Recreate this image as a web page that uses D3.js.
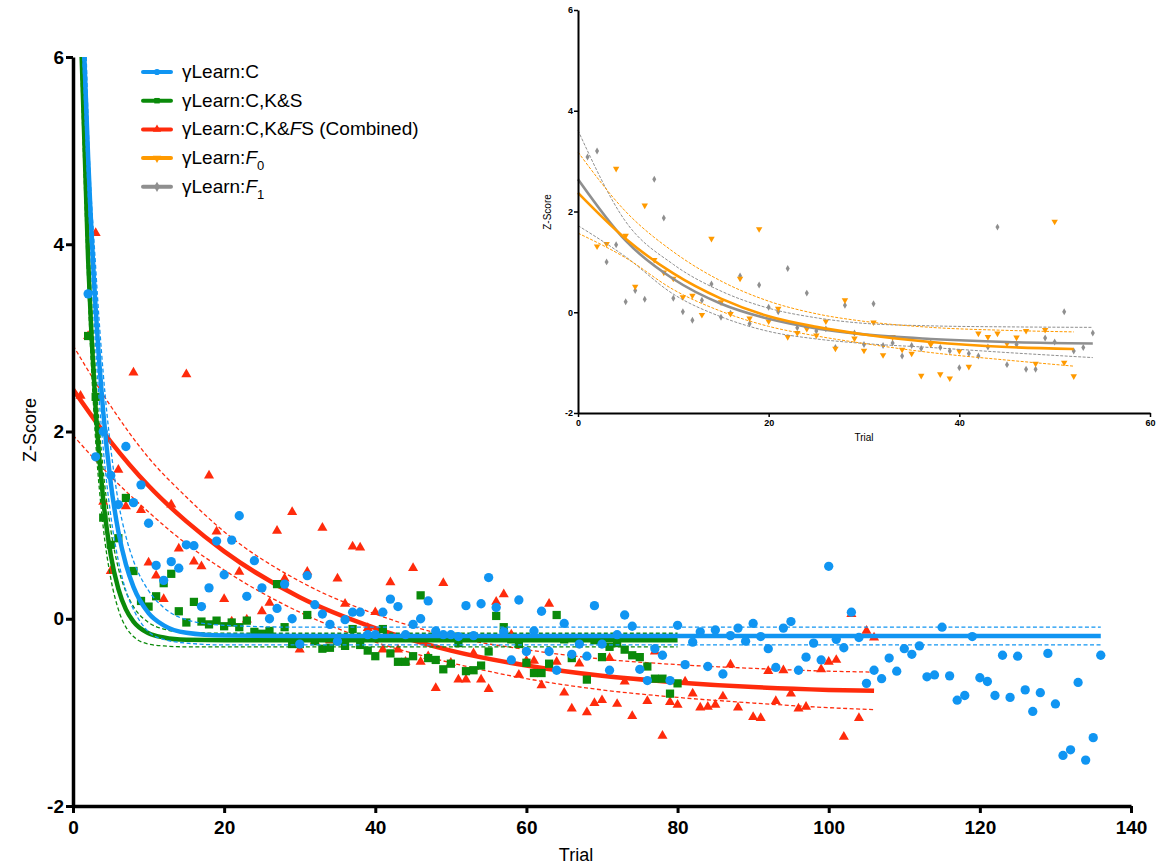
<!DOCTYPE html>
<html>
<head>
<meta charset="utf-8">
<script src="https://cdn.jsdelivr.net/npm/d3@7"></script>
<style>
  body { margin: 0; background: #fff; }
  text { font-family: "Liberation Sans", Arial, sans-serif; }
  .tick text { font-family: "Liberation Sans Narrow", "Liberation Sans", Arial, sans-serif; font-weight: bold; }
</style>
</head>
<body>
<script>
// ---- data (trial, z-score) ----
var blueData = [[2,3.47],[3,1.73],[4,2.0],[5,1.53],[6,1.22],[7,1.84],[8,1.24],[9,1.43],[10,1.02],[11,0.57],[12,0.41],[13,0.61],[14,0.54],[15,0.79],[16,0.78],[17,0.13],[18,0.33],[19,0.83],[20,0.47],[21,0.84],[22,1.10],[23,0.24],[24,0.62],[25,0.33],[26,0.00],[27,0.11],[28,0.37],[29,0.00],[30,-0.27],[31,0.46],[32,0.15],[33,0.05],[34,-0.06],[35,-0.24],[36,-0.01],[37,0.07],[38,0.07],[39,-0.17],[40,-0.17],[41,0.07],[42,0.21],[43,0.13],[44,-0.17],[45,-0.06],[46,0.00],[47,0.19],[48,-0.13],[49,-0.17],[50,-0.17],[51,-0.19],[52,0.14],[53,-0.18],[54,0.16],[55,0.44],[56,0.12],[57,-0.14],[58,-0.44],[59,0.20],[60,-0.35],[61,-0.13],[62,0.08],[63,-0.35],[64,-0.55],[65,-0.05],[66,-0.38],[67,-0.27],[68,-0.40],[69,0.14],[70,-0.27],[71,-0.55],[72,-0.17],[73,0.04],[74,-0.08],[75,-0.54],[76,-0.66],[77,-0.32],[78,-0.39],[79,-0.66],[80,-0.07],[81,-0.49],[82,-0.25],[83,-0.14],[84,-0.51],[85,-0.12],[86,-0.59],[87,-0.18],[88,-0.10],[89,-0.24],[90,-0.05],[91,-0.19],[92,-0.32],[93,-0.52],[94,-0.10],[95,-0.03],[96,-0.55],[97,-0.41],[98,-0.26],[99,-0.44],[100,0.56],[101,-0.22],[102,-0.31],[103,0.07],[104,-0.20],[105,-0.69],[106,-0.55],[107,-0.64],[108,-0.42],[109,-0.56],[110,-0.32],[111,-0.38],[112,-0.29],[113,-0.62],[114,-0.60],[115,-0.09],[116,-0.61],[117,-0.87],[118,-0.82],[119,-0.19],[120,-0.63],[121,-0.67],[122,-0.82],[123,-0.39],[124,-0.84],[125,-0.40],[126,-0.76],[127,-0.99],[128,-0.79],[129,-0.37],[130,-0.91],[131,-1.46],[132,-1.40],[133,-0.68],[134,-1.51],[135,-1.27],[136,-0.39]];

var greenData = [[2,3.02],[3,2.37],[4,1.08],[5,0.79],[6,0.86],[7,1.29],[8,0.51],[9,0.19],[10,0.13],[11,0.24],[12,0.38],[13,0.48],[14,0.08],[15,-0.04],[16,0.18],[17,-0.03],[18,-0.06],[19,-0.02],[20,-0.08],[21,-0.04],[22,-0.09],[23,-0.02],[24,-0.14],[25,-0.16],[26,-0.13],[27,0.37],[28,-0.09],[29,-0.27],[30,-0.27],[31,0.04],[32,-0.24],[33,-0.32],[34,-0.31],[35,-0.24],[36,-0.29],[37,-0.11],[38,-0.28],[39,-0.34],[40,-0.40],[41,-0.11],[42,-0.37],[43,-0.46],[44,-0.46],[45,-0.40],[46,0.25],[47,-0.42],[48,-0.44],[49,-0.54],[50,-0.48],[51,-0.26],[52,-0.56],[53,-0.55],[54,-0.50],[55,-0.35],[56,0.03],[57,-0.09],[58,-0.22],[59,-0.27],[60,-0.47],[61,-0.58],[62,-0.58],[63,-0.48],[64,0.04],[65,-0.22],[66,-0.42],[67,-0.23],[68,-0.65],[69,-0.23],[70,-0.41],[71,-0.30],[72,-0.26],[73,-0.33],[74,-0.39],[75,-0.41],[76,-0.51],[77,-0.64],[78,-0.64],[79,-0.80],[80,-0.69]];

var redData = [[1,2.38],[2,3.02],[3,4.12],[4,1.25],[5,0.51],[6,1.59],[7,1.20],[8,2.63],[9,1.16],[10,0.60],[11,0.46],[12,0.21],[13,1.22],[14,0.75],[15,2.61],[16,0.61],[17,0.56],[18,1.53],[19,0.93],[20,0.21],[21,-0.03],[22,0.50],[23,-0.01],[25,0.08],[26,0.17],[27,0.94],[28,0.43],[29,1.14],[30,-0.33],[31,0.50],[32,-0.24],[33,0.97],[34,-0.23],[35,0.43],[36,0.16],[37,0.77],[38,0.76],[39,-0.10],[40,0.07],[41,-0.33],[42,0.39],[43,-0.33],[44,-0.46],[45,0.54],[46,-0.46],[47,-0.40],[48,-0.74],[49,0.38],[50,-0.47],[51,-0.65],[52,-0.65],[53,-0.37],[54,-0.65],[55,-0.75],[56,0.18],[57,0.26],[58,-0.17],[59,-0.60],[60,-0.45],[61,-0.45],[62,-0.71],[63,0.16],[64,-0.46],[65,-0.79],[66,-0.96],[67,-0.48],[68,-1.00],[69,-0.90],[70,-0.87],[71,-0.42],[72,-0.91],[73,-0.67],[74,-1.04],[76,-0.88],[77,-0.35],[78,-1.25],[79,-0.89],[80,-0.92],[81,-0.67],[82,-0.80],[83,-0.95],[84,-0.94],[85,-0.92],[86,-0.83],[87,-0.49],[88,-0.95],[90,-1.05],[91,-1.06],[92,-0.56],[93,-0.88],[94,-0.55],[95,-0.80],[96,-0.96],[97,-0.94],[99,-0.54],[100,-0.46],[101,-0.44],[102,-1.26],[103,0.05],[104,-1.06],[105,-0.13],[106,-0.20]];

var orangeData = [[2,1.31],[3,1.36],[4,2.85],[5,1.52],[6,0.51],[7,2.12],[8,1.04],[9,0.79],[10,0.67],[11,0.30],[12,0.33],[13,-0.05],[14,1.46],[15,0.20],[16,-0.03],[17,0.67],[18,-0.12],[19,1.65],[20,-0.18],[21,0.07],[22,-0.49],[23,-0.41],[24,-0.33],[25,-0.46],[26,-0.18],[27,-0.72],[28,0.24],[29,-0.52],[30,-0.76],[31,-0.20],[32,-0.85],[33,-0.49],[34,-0.74],[35,-0.82],[36,-1.26],[37,-0.64],[38,-1.23],[39,-1.31],[40,-0.77],[41,-1.08],[42,-0.42],[43,-0.49],[44,-0.42],[45,-0.62],[46,-0.50],[47,-0.37],[48,-1.02],[49,-0.35],[50,1.80],[51,-1.00],[52,-1.27]];

var grayData = [[1,3.08],[2,3.20],[3,1.00],[4,1.34],[5,0.21],[6,0.43],[7,0.26],[8,2.64],[9,1.87],[10,0.28],[11,0.01],[12,-0.16],[13,0.24],[14,0.56],[15,-0.10],[16,-0.02],[17,0.72],[18,-0.23],[19,0.54],[20,0.10],[21,0.01],[22,0.87],[23,-0.31],[24,0.38],[25,-0.37],[26,-0.33],[27,-0.70],[28,0.14],[29,-0.41],[30,-0.64],[31,0.17],[32,-0.66],[33,-0.61],[34,-0.87],[35,-0.66],[36,-0.72],[37,-0.61],[38,-0.70],[39,-0.77],[40,-1.10],[41,-0.82],[42,-0.87],[43,-0.69],[44,1.69],[45,-1.04],[46,-0.64],[47,-1.13],[48,-1.13],[49,-0.51],[50,-0.59],[51,0.01],[52,-0.77],[53,-0.70],[54,-0.41]];

// fitted curves and their confidence bands
var blueFit  = [[1.5,6],[2,4.93],[3,3.31],[4,2.21],[5,1.45],[6,0.93],[7,0.58],[8,0.34],[10,0.06],[12,-0.07],[15,-0.15],[20,-0.18],[30,-0.185],[136,-0.185]];
var blueHi   = [[1.75,6],[2,5.3],[3,3.75],[4,2.62],[5,1.82],[6,1.25],[7,0.88],[8,0.62],[10,0.30],[12,0.12],[15,-0.01],[20,-0.07],[30,-0.09],[136,-0.09]];
var blueLo   = [[1.3,6],[2,4.55],[3,2.9],[4,1.82],[5,1.1],[6,0.62],[7,0.3],[8,0.1],[10,-0.14],[12,-0.22],[15,-0.26],[20,-0.28],[136,-0.28]];
var greenFit = [[1.15,6],[2,3.84],[3,2.24],[4,1.27],[5,0.68],[6,0.32],[7,0.10],[8,-0.03],[10,-0.155],[12,-0.20],[15,-0.225],[20,-0.23],[80,-0.23]];
var greenHi  = [[1.3,6],[2,4.2],[3,2.6],[4,1.58],[5,0.95],[6,0.54],[7,0.29],[8,0.13],[10,-0.04],[12,-0.11],[15,-0.145],[20,-0.155],[80,-0.155]];
var greenLo  = [[1.0,6],[2,3.5],[3,1.9],[4,0.98],[5,0.43],[6,0.1],[7,-0.09],[8,-0.19],[10,-0.27],[12,-0.29],[15,-0.30],[80,-0.30]];
var redFit   = [[0,2.45],[5,1.89],[10,1.42],[15,1.04],[20,0.72],[30,0.23],[40,-0.10],[50,-0.34],[60,-0.50],[70,-0.61],[80,-0.68],[90,-0.73],[100,-0.76],[106,-0.77]];
var redHi    = [[0,2.92],[5,2.27],[10,1.72],[15,1.30],[20,0.93],[30,0.40],[40,0.05],[50,-0.19],[60,-0.33],[70,-0.43],[80,-0.49],[90,-0.53],[100,-0.56],[106,-0.57]];
var redLo    = [[0,1.96],[5,1.52],[10,1.14],[15,0.80],[20,0.52],[30,0.07],[40,-0.25],[50,-0.47],[60,-0.64],[70,-0.76],[80,-0.84],[90,-0.90],[100,-0.95],[106,-0.97]];

var orangeFit = [[0,2.37],[5,1.46],[10,0.77],[15,0.27],[20,-0.08],[25,-0.29],[30,-0.44],[37,-0.59],[45,-0.69],[52,-0.73]];
var orangeHi  = [[0,3.18],[5,2.0],[10,1.2],[15,0.62],[20,0.22],[25,-0.03],[30,-0.18],[37,-0.30],[45,-0.36],[52,-0.39]];
var orangeLo  = [[0,1.57],[5,1.08],[10,0.45],[15,0.02],[20,-0.28],[25,-0.47],[30,-0.62],[37,-0.80],[45,-0.95],[52,-1.07]];
var grayFit   = [[0,2.64],[5,1.42],[10,0.66],[15,0.17],[20,-0.13],[25,-0.32],[30,-0.44],[37,-0.53],[45,-0.59],[54,-0.62]];
var grayHi    = [[0,3.61],[5,1.80],[10,0.95],[15,0.42],[20,0.08],[25,-0.11],[30,-0.22],[37,-0.27],[45,-0.29],[54,-0.30]];
var grayLo    = [[0,1.72],[5,1.10],[10,0.36],[15,-0.09],[20,-0.38],[25,-0.53],[30,-0.62],[37,-0.70],[45,-0.80],[54,-0.90]];

var xTicks = [0, 20, 40, 60, 80, 100, 120, 140];
var yTicks = [-2, 0, 2, 4, 6];
var insetXTicks = [0, 20, 40, 60];

var colors = { blue: "#1095f2", green: "#0a8a0a", red: "#ff2b0c", orange: "#ff9a00", gray: "#8f8f8f" };

// legend: label parts [text, italic?, subscript?]
var legendItems = [
  { color: colors.blue,   sym: "circle",   parts: [["γLearn:C"]] },
  { color: colors.green,  sym: "square",   parts: [["γLearn:C,K&S"]] },
  { color: colors.red,    sym: "triangle", parts: [["γLearn:C,K&"], ["F", 1], ["S (Combined)"]] },
  { color: colors.orange, sym: "down",     parts: [["γLearn:"], ["F", 1], ["0", 0, 1]] },
  { color: colors.gray,   sym: "diamond",  parts: [["γLearn:"], ["F", 1], ["1", 0, 1]] }
];

var width = 1156, height = 867;
var svg = d3.select("body").append("svg")
  .attr("width", width).attr("height", height);

// ---- scales ----
var x = d3.scaleLinear().domain([0, 140]).range([73, 1131]);
var y = d3.scaleLinear().domain([-2, 6]).range([806, 57]);
var ix = d3.scaleLinear().domain([0, 60]).range([578, 1150]);
var iy = d3.scaleLinear().domain([-2, 6]).range([413, 10]);

var plainNum = d => String(d);   // hyphen minus like the original

var symType = {
  circle: d3.symbolCircle, square: d3.symbolSquare, triangle: d3.symbolTriangle,
  down: d3.symbolTriangle, diamond: d3.symbolDiamond
};

function drawCurve(g, knots, xs, ys, color, w, dash) {
  var line = d3.line()
    .x(d => xs(d[0])).y(d => ys(d[1]))
    .curve(d3.curveMonotoneX);
  g.append("path")
    .attr("d", line(knots))
    .attr("fill", "none")
    .attr("stroke", color)
    .attr("stroke-width", w)
    .attr("stroke-dasharray", dash || null);
}

function drawPoints(g, data, xs, ys, color, sym, size) {
  g.selectAll(null)
    .data(data)
    .enter()
    .append("path")
      .attr("d", d3.symbol(symType[sym], size))
      .attr("transform", d => "translate(" + xs(d[0]) + "," + ys(d[1]) + ")" + (sym == "down" ? " rotate(180)" : ""))
      .attr("fill", color);
}

// ---- inset ----
var inset = svg.append("g");
var insetPlot = inset.append("g");
drawPoints(insetPlot, grayData, ix, iy, colors.gray, "diamond", 14);
drawPoints(insetPlot, orangeData, ix, iy, colors.orange, "down", 18);
drawCurve(insetPlot, grayHi, ix, iy, colors.gray, 1, "3,1.5");
drawCurve(insetPlot, grayLo, ix, iy, colors.gray, 1, "3,1.5");
drawCurve(insetPlot, orangeHi, ix, iy, colors.orange, 1, "3,1.5");
drawCurve(insetPlot, orangeLo, ix, iy, colors.orange, 1, "3,1.5");
drawCurve(insetPlot, grayFit, ix, iy, colors.gray, 2.6);
drawCurve(insetPlot, orangeFit, ix, iy, colors.orange, 2.6);

var iyAxis = inset.append("g")
  .attr("transform", "translate(578,0)")
  .call(d3.axisLeft(iy).tickValues(yTicks).tickFormat(plainNum).tickSize(4).tickSizeOuter(0).tickPadding(1));
var ixAxis = inset.append("g")
  .attr("transform", "translate(0,413)")
  .call(d3.axisBottom(ix).tickValues(insetXTicks).tickFormat(plainNum).tickSize(4).tickSizeOuter(0).tickPadding(3));
[iyAxis, ixAxis].forEach(function(a) {
  a.select(".domain").attr("stroke-width", 2);
  a.selectAll(".tick line").attr("stroke-width", 1.5);
  a.selectAll(".tick text").attr("font-size", 9);
});
inset.append("text")
  .attr("transform", "translate(551,212) rotate(-90)")
  .attr("text-anchor", "middle")
  .attr("font-size", 10)
  .text("Z-Score");
inset.append("text")
  .attr("x", 864).attr("y", 441)
  .attr("text-anchor", "middle")
  .attr("font-size", 10)
  .text("Trial");

// ---- main plot ----
svg.append("clipPath").attr("id", "plotclip")
  .append("rect").attr("x", 73).attr("y", 57).attr("width", 1058).attr("height", 749);
var plot = svg.append("g").attr("clip-path", "url(#plotclip)");

drawCurve(plot, redHi, x, y, colors.red, 1.3, "4,2.5");
drawCurve(plot, redLo, x, y, colors.red, 1.3, "4,2.5");
drawPoints(plot, redData, x, y, colors.red, "triangle", 44);
drawCurve(plot, redFit, x, y, colors.red, 4.5);

drawCurve(plot, greenHi, x, y, colors.green, 1.3, "4,2.5");
drawCurve(plot, greenLo, x, y, colors.green, 1.3, "4,2.5");
drawPoints(plot, greenData, x, y, colors.green, "square", 68);
drawCurve(plot, greenFit, x, y, colors.green, 4.5);

drawCurve(plot, blueHi, x, y, colors.blue, 1.3, "4,2.5");
drawCurve(plot, blueLo, x, y, colors.blue, 1.3, "4,2.5");
drawPoints(plot, blueData, x, y, colors.blue, "circle", 68);
drawCurve(plot, blueFit, x, y, colors.blue, 4.5);

// axes
var yAxis = svg.append("g")
  .attr("transform", "translate(73,0)")
  .call(d3.axisLeft(y).tickValues(yTicks).tickFormat(plainNum).tickSize(7).tickSizeOuter(0).tickPadding(2));
var xAxis = svg.append("g")
  .attr("transform", "translate(0,806)")
  .call(d3.axisBottom(x).tickValues(xTicks).tickFormat(plainNum).tickSize(7).tickSizeOuter(0).tickPadding(8));
[yAxis, xAxis].forEach(function(a) {
  a.select(".domain").attr("stroke-width", 3.5);
  a.selectAll(".tick line").attr("stroke-width", 3);
  a.selectAll(".tick text").attr("font-size", 19).attr("fill", "#000");
});

svg.append("text")
  .attr("transform", "translate(36,430) rotate(-90)")
  .attr("text-anchor", "middle")
  .attr("font-size", 18)
  .text("Z-Score");
svg.append("text")
  .attr("x", 576).attr("y", 861)
  .attr("text-anchor", "middle")
  .attr("font-size", 18)
  .text("Trial");

// ---- legend ----
var legend = svg.append("g");
var rows = legend.selectAll("g")
  .data(legendItems)
  .enter()
  .append("g")
    .attr("transform", (d, i) => "translate(0," + (72 + i * 28.7) + ")");
rows.append("line")
  .attr("x1", 143).attr("x2", 171)
  .attr("stroke", d => d.color)
  .attr("stroke-width", 4)
  .attr("stroke-linecap", "round");
rows.append("path")
  .attr("d", d => d3.symbol(symType[d.sym], 30)())
  .attr("transform", d => "translate(157,0)" + (d.sym == "down" ? " rotate(180)" : ""))
  .attr("fill", d => d.color);
var labels = rows.append("text")
  .attr("x", 182).attr("y", 6)
  .attr("font-size", 19);
labels.each(function(d) {
  var t = d3.select(this);
  d.parts.forEach(function(p) {
    var s = t.append("tspan").text(p[0]);
    if (p[1]) s.attr("font-style", "italic");
    if (p[2]) s.attr("font-size", 13).attr("dy", 6);
  });
});
</script>
</body>
</html>
